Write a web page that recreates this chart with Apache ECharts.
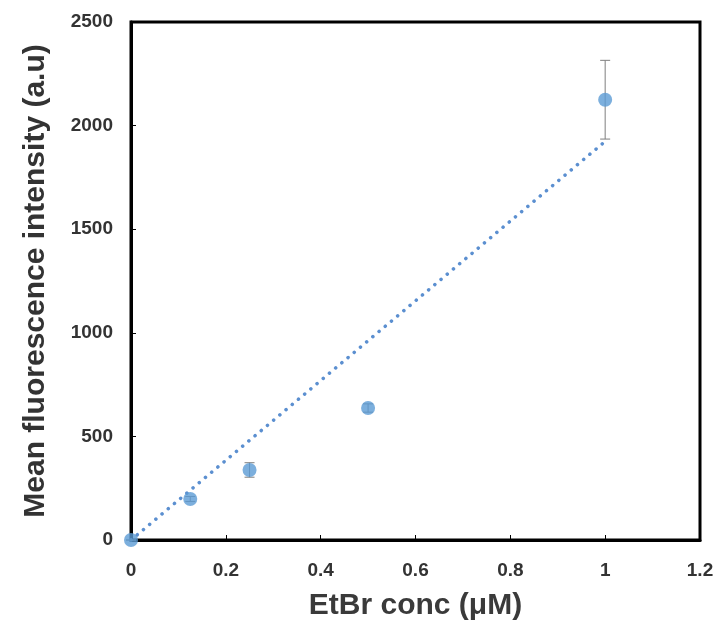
<!DOCTYPE html>
<html>
<head>
<meta charset="utf-8">
<script src="https://cdn.jsdelivr.net/npm/echarts@6/dist/echarts.min.js"></script>
<style>
  html, body { margin: 0; padding: 0; background: #fff; }
  #chart { width: 718px; height: 625px; }
</style>
</head>
<body>
<div id="chart"></div>
<script>
// EtBr concentration (µM) and mean fluorescence intensity (a.u.)
const concentrations = [0, 0.125, 0.25, 0.5, 1];
const meanIntensity = [0, 198, 338, 637, 2125];
const errorValues = [0, 12, 35, 20, 190];
// Linear trendline forced through the origin
const trendX = [0, 1];
const trendY = [0, 1924];
const xTicks = [0, 0.2, 0.4, 0.6, 0.8, 1, 1.2];
const yTicks = [0, 500, 1000, 1500, 2000, 2500];

const pointData = concentrations.map((x, i) => [x, meanIntensity[i]]);
const errorData = concentrations.map((x, i) => [x, meanIntensity[i] - errorValues[i], meanIntensity[i] + errorValues[i]]);
const trendData = trendX.map((x, i) => [x, trendY[i]]);

const chart = echarts.init(document.getElementById('chart'));
const labelStyle = { fontFamily: 'Liberation Sans', fontWeight: 'bold', fontSize: 19, color: '#333' };

chart.setOption({
  animation: false,
  grid: {
    left: 131, right: 18, top: 22, bottom: 85,
    outerBoundsMode: 'none',
    show: true, borderColor: '#000', borderWidth: 3, backgroundColor: '#fff'
  },
  xAxis: {
    type: 'value', min: 0, max: 1.2, interval: 0.2,
    name: 'EtBr conc (\u03BCM)', nameLocation: 'middle', nameGap: 51,
    nameTextStyle: { fontFamily: 'Liberation Sans', fontWeight: 'bold', fontSize: 30, color: '#3a3a3a' },
    axisLine: { show: true, onZero: false, lineStyle: { color: '#000', width: 3 } },
    axisTick: { show: true, inside: true, length: 5, lineStyle: { color: '#000', width: 1 } },
    axisLabel: Object.assign({ margin: 21, formatter: v => xTicks.includes(+v.toFixed(1)) ? String(+v.toFixed(1)) : '' }, labelStyle),
    splitLine: { show: false }
  },
  yAxis: {
    type: 'value', min: 0, max: 2500, interval: 500,
    name: 'Mean fluorescence intensity (a.u)', nameLocation: 'middle', nameGap: 80,
    nameTextStyle: { fontFamily: 'Liberation Sans', fontWeight: 'bold', fontSize: 30, color: '#333' },
    axisLine: { show: true, lineStyle: { color: '#000', width: 3 } },
    axisTick: { show: true, inside: true, length: 5, lineStyle: { color: '#000', width: 1 } },
    axisLabel: Object.assign({ margin: 18, formatter: v => yTicks.includes(v) ? String(v) : '' }, labelStyle),
    splitLine: { show: false }
  },
  series: [
    {
      type: 'line',
      data: trendData,
      symbol: 'none',
      lineStyle: { color: '#5b8fd0', width: 3.5, type: [0.1, 8], cap: 'round' },
      z: 2
    },
    {
      type: 'custom',
      data: errorData,
      renderItem: function (params, api) {
        const x = api.value(0);
        const lo = api.coord([x, api.value(1)]);
        const hi = api.coord([x, api.value(2)]);
        const cap = 5;
        const style = { stroke: '#7f7f7f', lineWidth: 1 };
        return {
          type: 'group',
          children: [
            { type: 'line', shape: { x1: lo[0], y1: lo[1], x2: hi[0], y2: hi[1] }, style: style },
            { type: 'line', shape: { x1: lo[0] - cap, y1: lo[1], x2: lo[0] + cap, y2: lo[1] }, style: style },
            { type: 'line', shape: { x1: hi[0] - cap, y1: hi[1], x2: hi[0] + cap, y2: hi[1] }, style: style }
          ]
        };
      },
      z: 3
    },
    {
      type: 'scatter',
      data: pointData,
      symbol: 'circle',
      symbolSize: 14,
      itemStyle: { color: '#5b9bd5' },
      z: 4
    }
  ]
});
</script>
</body>
</html>
